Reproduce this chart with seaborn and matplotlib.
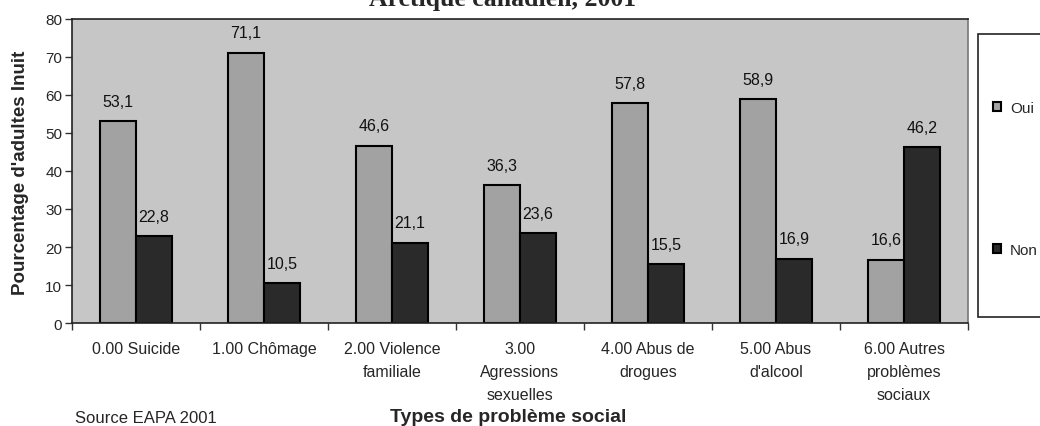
import matplotlib
matplotlib.use("Agg")
import matplotlib.pyplot as plt
from matplotlib.patches import Rectangle, Patch
from matplotlib.ticker import FixedLocator
import pandas as pd
import seaborn as sns

categories = [
    "0.00 Suicide",
    "1.00 Chômage",
    "2.00 Violence\nfamiliale",
    "3.00\nAgressions\nsexuelles",
    "4.00 Abus de\ndrogues",
    "5.00 Abus\nd'alcool",
    "6.00 Autres\nproblèmes\nsociaux",
]
oui = [53.1, 71.1, 46.6, 36.3, 57.8, 58.9, 16.6]
non = [22.8, 10.5, 21.1, 23.6, 15.5, 16.9, 46.2]
series = ["Oui", "Non"]
yticks = [0, 10, 20, 30, 40, 50, 60, 70, 80]

df = pd.DataFrame({
    "categorie": categories * 2,
    "reponse": [series[0]] * len(oui) + [series[1]] * len(non),
    "pct": oui + non,
})

sns.set_theme(style="white")
plt.rcParams["font.family"] = ["Liberation Sans", "DejaVu Sans"]

fig = plt.figure(figsize=(10.4, 4.27), dpi=100)
ax = fig.add_axes([0.0692, 0.2412, 0.8616, 0.7120])
ax.set_facecolor("#c6c6c6")

palette = {"Oui": "#a2a2a2", "Non": "#2a2a2a"}
sns.barplot(data=df, x="categorie", y="pct", hue="reponse", order=categories,
            hue_order=series, palette=palette, width=0.5625, saturation=1,
            edgecolor="black", linewidth=1.5, ax=ax, legend=False)

for cont in ax.containers:
    ax.bar_label(cont, fmt=lambda v: f"{v:.1f}".replace(".", ","),
                 padding=9, fontsize=11.5, color="#111111")

ax.set_xlim(-0.5, len(categories) - 0.5)
ax.set_ylim(0, 80)
ax.set_yticks(yticks)
ax.set_yticklabels([str(t) for t in yticks], fontsize=11)
ax.set_xticks(range(len(categories)))
ax.set_xticklabels(categories, fontsize=11.5, linespacing=1.68)
ax.xaxis.set_minor_locator(FixedLocator([i - 0.5 for i in range(len(categories) + 1)]))
ax.tick_params(axis="x", which="major", length=0, pad=13)
ax.tick_params(axis="x", which="minor", length=5, width=1, color="#333333", direction="out", bottom=True)
ax.tick_params(axis="y", length=5, width=1, color="#333333", direction="out", left=True, pad=2)

for side, sp in ax.spines.items():
    sp.set_visible(True)
    sp.set_color("#222222")
    sp.set_linewidth(1.2)
ax.spines["right"].set_color("#777777")

ax.set_xlabel("Types de problème social", fontsize=14, fontweight="bold")
ax.xaxis.set_label_coords(0.487, -0.309)
ax.xaxis.label.set_va("center")
ax.set_ylabel("Pourcentage d'adultes Inuit", fontsize=13.5, fontweight="bold")
ax.yaxis.set_label_coords(-0.057, 0.497)
ax.yaxis.label.set_va("center")

fig.text(503 / 1040, 1 - 6 / 427, "Arctique canadien, 2001", ha="center", va="baseline",
         fontsize=18.5, fontweight="bold", family=["Liberation Serif", "DejaVu Serif"])
fig.text(75 / 1040, 1 - 419 / 427, "Source EAPA 2001", ha="left", va="center", fontsize=12)

# legend box on the right edge
fig.patches.append(Rectangle((978 / 1040, 1 - 318 / 427), 0.08, (318 - 35) / 427,
                             transform=fig.transFigure, facecolor="white",
                             edgecolor="#222222", linewidth=1.2, clip_on=False))
handles = [Patch(facecolor=palette[s], edgecolor="black", linewidth=1.5) for s in series]
fig.legend(handles, series, loc="upper left", bbox_to_anchor=(993 / 1040, 1 - 102 / 427),
           frameon=False, fontsize=11, labelspacing=8.35, handlelength=0.52,
           handleheight=0.52, handletextpad=0.6, borderpad=0, borderaxespad=0)

fig.savefig("out.png", dpi=100)
